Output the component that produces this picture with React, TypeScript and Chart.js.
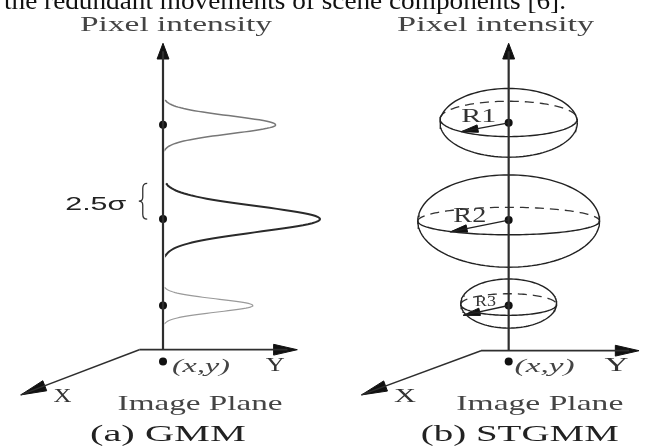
import React, { useEffect, useRef } from 'react';
import { Chart, registerables } from 'chart.js';
Chart.register(...registerables);

const W = 646;
const H = 448;

// ---- diagram geometry (diagram units = canvas pixels) ----
const panelAxisX = [161, 511];
const axisTopY = [40, 40];
const originY = [352, 353];
const planeLeftX = [137, 483];
const yAxisTipX = [297, 643];
const xAxisTipX = [17, 362];
const xAxisTipY = [398, 398];
const originDotY = [364, 364];

// (a) GMM components: mean (intensity position), sigma, peak height
const gmmMeans = [123, 219, 307];
const gmmSigmas = [9, 13, 6.6];
const gmmPeaks = [114, 159, 91];
const gmmColors = ['#777777', '#2a2a2a', '#9a9a9a'];
const gmmLineW = [1.5, 2, 1.2];

// (b) STGMM spheres
const sphereCY = [121, 221, 305];
const sphereRX = [69.5, 92, 48.5];
const sphereRY = [35, 47, 25];
const equatorCY = [117, 221, 306];
const equatorRY = [18, 14, 11];
const sphereDotY = [121, 220, 307];
const radiusTipX = [463, 452, 465];
const radiusTipY = [130, 232, 317];

type P = { x: number; y: number };

function lineDs(data: P[], color: string, width: number, dash: number[] = []) {
  return {
    data,
    showLine: true,
    borderColor: color,
    borderWidth: width,
    borderDash: dash,
    pointRadius: 0,
    tension: 0,
    fill: false,
  } as any;
}

function arrowHead(tip: P, from: P, len: number, hw: number, color: string) {
  const dx = tip.x - from.x;
  const dy = tip.y - from.y;
  const d = Math.hypot(dx, dy);
  const ux = dx / d, uy = dy / d;
  const bx = tip.x - ux * len, by = tip.y - uy * len;
  const px = -uy * hw, py = ux * hw;
  return {
    data: [tip, { x: bx + px, y: by + py }, { x: bx - px, y: by - py }, tip],
    showLine: true,
    borderColor: color,
    borderWidth: 1,
    backgroundColor: color,
    pointRadius: 0,
    tension: 0,
    fill: 'shape',
  } as any;
}

function ellipsePts(cx: number, cy: number, rx: number, ry: number, t0: number, t1: number, n = 80): P[] {
  const pts: P[] = [];
  for (let i = 0; i <= n; i++) {
    const t = t0 + ((t1 - t0) * i) / n;
    pts.push({ x: cx + rx * Math.cos(t), y: cy + ry * Math.sin(t) });
  }
  return pts;
}

function gaussPts(ax: number, mu: number, s: number, a: number): P[] {
  const pts: P[] = [];
  const n = 70;
  for (let i = 0; i <= n; i++) {
    const y = mu - 2.8 * s + (5.6 * s * i) / n;
    pts.push({ x: ax + a * Math.exp(-0.5 * ((y - mu) / s) ** 2), y });
  }
  return pts;
}

const SERIF = '"Liberation Serif", "Times New Roman", Times, serif';
const SANS = '"Liberation Sans", Arial, Helvetica, sans-serif';

type Label = { text: string; x: number; y: number; w: number; font: string; color: string };

const labels: Label[] = [
  { text: 'the redundant movements of scene components [6].', x: 0, y: 5, w: 562, font: `25px ${SERIF}`, color: '#111' },
  { text: 'Pixel intensity', x: 77, y: 27, w: 192, font: `21px ${SERIF}`, color: '#444' },
  { text: 'Pixel intensity', x: 398, y: 27, w: 197, font: `21px ${SERIF}`, color: '#444' },
  { text: '2.5σ', x: 62, y: 210, w: 61, font: `18px ${SANS}`, color: '#222' },
  { text: 'R1', x: 463, y: 120, w: 35, font: `19px ${SERIF}`, color: '#333' },
  { text: 'R2', x: 455, y: 222, w: 33, font: `20px ${SERIF}`, color: '#333' },
  { text: 'R3', x: 477, y: 307, w: 21, font: `15px ${SERIF}`, color: '#333' },
  { text: '(x,y)', x: 170, y: 375, w: 58, font: `italic 18px ${SERIF}`, color: '#444' },
  { text: '(x,y)', x: 517, y: 375, w: 60, font: `italic 18px ${SERIF}`, color: '#444' },
  { text: 'Y', x: 265, y: 374, w: 19, font: `19px ${SERIF}`, color: '#333' },
  { text: 'Y', x: 608, y: 374, w: 24, font: `19px ${SERIF}`, color: '#333' },
  { text: 'X', x: 50, y: 405, w: 18, font: `19px ${SERIF}`, color: '#333' },
  { text: 'X', x: 395, y: 405, w: 22, font: `19px ${SERIF}`, color: '#333' },
  { text: 'Image Plane', x: 115, y: 413, w: 165, font: `21px ${SERIF}`, color: '#444' },
  { text: 'Image Plane', x: 458, y: 413, w: 167, font: `21px ${SERIF}`, color: '#444' },
  { text: '(a) GMM', x: 87, y: 445, w: 156, font: `23px ${SERIF}`, color: '#222' },
  { text: '(b) STGMM', x: 422, y: 445, w: 198, font: `23px ${SERIF}`, color: '#222' },
];

const textPlugin = {
  id: 'diagramText',
  afterDatasetsDraw(chart: any) {
    const ctx: CanvasRenderingContext2D = chart.ctx;
    const xs = chart.scales.x;
    const ys = chart.scales.y;
    ctx.save();
    ctx.textAlign = 'left';
    ctx.textBaseline = 'alphabetic';
    for (const l of labels) {
      ctx.font = l.font;
      ctx.fillStyle = l.color;
      const m = ctx.measureText(l.text).width;
      ctx.save();
      ctx.translate(xs.getPixelForValue(l.x), ys.getPixelForValue(l.y));
      ctx.scale(l.w / m, 1);
      ctx.fillText(l.text, 0, 0);
      ctx.restore();
    }
    // brace next to 2.5σ (upper half of the middle component)
    const bx = (v: number) => xs.getPixelForValue(v);
    const by = (v: number) => ys.getPixelForValue(v);
    const top = gmmMeans[1] - 2.8 * gmmSigmas[1];
    const bot = gmmMeans[1];
    const mid = (top + bot) / 2;
    ctx.strokeStyle = '#333';
    ctx.lineWidth = 1.3;
    ctx.beginPath();
    ctx.moveTo(bx(145), by(top));
    ctx.quadraticCurveTo(bx(140.5), by(top), bx(140.5), by(top + 5));
    ctx.lineTo(bx(140.5), by(mid - 4));
    ctx.quadraticCurveTo(bx(140.5), by(mid), bx(136.5), by(mid));
    ctx.quadraticCurveTo(bx(140.5), by(mid), bx(140.5), by(mid + 4));
    ctx.lineTo(bx(140.5), by(bot - 5));
    ctx.quadraticCurveTo(bx(140.5), by(bot), bx(145), by(bot));
    ctx.stroke();
    ctx.restore();
  },
};

export default function App() {
  const ref = useRef<HTMLCanvasElement | null>(null);
  useEffect(() => {
    if (!ref.current) return;
    const axisColor = '#2e2e2e';
    const ds: any[] = [];

    for (let p = 0; p < 2; p++) {
      const ax = panelAxisX[p];
      const o = { x: planeLeftX[p], y: originY[p] };
      // image plane axes
      ds.push(lineDs([o, { x: yAxisTipX[p] - 10, y: originY[p] }], axisColor, 1.8));
      ds.push(arrowHead({ x: yAxisTipX[p], y: originY[p] }, o, 24, 5.5, '#111'));
      const xt = { x: xAxisTipX[p], y: xAxisTipY[p] };
      ds.push(lineDs([o, xt], axisColor, 1.5));
      ds.push(arrowHead(xt, o, 26, 5.5, '#111'));
      // intensity axis
      ds.push(lineDs([{ x: ax, y: originY[p] }, { x: ax, y: axisTopY[p] + 8 }], axisColor, 2.2));
      ds.push(arrowHead({ x: ax, y: axisTopY[p] }, { x: ax, y: originY[p] }, 16, 6, '#111'));
    }

    // (a) GMM curves
    for (let i = 0; i < gmmMeans.length; i++) {
      ds.push(lineDs(gaussPts(panelAxisX[0], gmmMeans[i], gmmSigmas[i], gmmPeaks[i]), gmmColors[i], gmmLineW[i]));
    }

    // (b) spheres
    const cx = panelAxisX[1];
    for (let i = 0; i < sphereCY.length; i++) {
      ds.push(lineDs(ellipsePts(cx, sphereCY[i], sphereRX[i], sphereRY[i], 0, Math.PI * 2, 120), '#222', 1.4));
      ds.push(lineDs(ellipsePts(cx, equatorCY[i], sphereRX[i], equatorRY[i], 0, Math.PI), '#222', 1.4));
      ds.push(lineDs(ellipsePts(cx, equatorCY[i], sphereRX[i], equatorRY[i], Math.PI, Math.PI * 2), '#333', 1.3, [9, 6]));
      const c = { x: cx, y: sphereDotY[i] };
      const tip = { x: radiusTipX[i], y: radiusTipY[i] };
      ds.push(lineDs([c, tip], '#222', 1.4));
      ds.push(arrowHead(tip, c, 17, 3.8, '#111'));
    }

    // dots: component means / sphere centres and origins
    const dots: P[] = [
      ...gmmMeans.map((m) => ({ x: panelAxisX[0], y: m })),
      ...sphereDotY.map((m) => ({ x: panelAxisX[1], y: m })),
      { x: panelAxisX[0], y: originDotY[0] },
      { x: panelAxisX[1], y: originDotY[1] },
    ];
    ds.push({
      data: dots,
      showLine: false,
      pointRadius: 4,
      pointBackgroundColor: '#111',
      pointBorderColor: '#111',
      pointBorderWidth: 0,
    });

    const chart = new Chart(ref.current, {
      type: 'scatter',
      data: { datasets: ds },
      options: {
        responsive: false,
        animation: false,
        layout: { padding: 0 },
        plugins: { legend: { display: false }, tooltip: { enabled: false } },
        scales: {
          x: { type: 'linear', min: 0, max: W, display: false },
          y: { type: 'linear', min: 0, max: H, reverse: true, display: false },
        },
        elements: { point: { radius: 0 } },
      },
      plugins: [textPlugin],
    } as any);
    return () => chart.destroy();
  }, []);

  return (
    <div style={{ position: 'fixed', left: 0, top: 0, width: W, height: H, background: '#fff' }}>
      <canvas ref={ref} width={W} height={H} style={{ width: W, height: H, display: 'block' }} />
    </div>
  );
}
